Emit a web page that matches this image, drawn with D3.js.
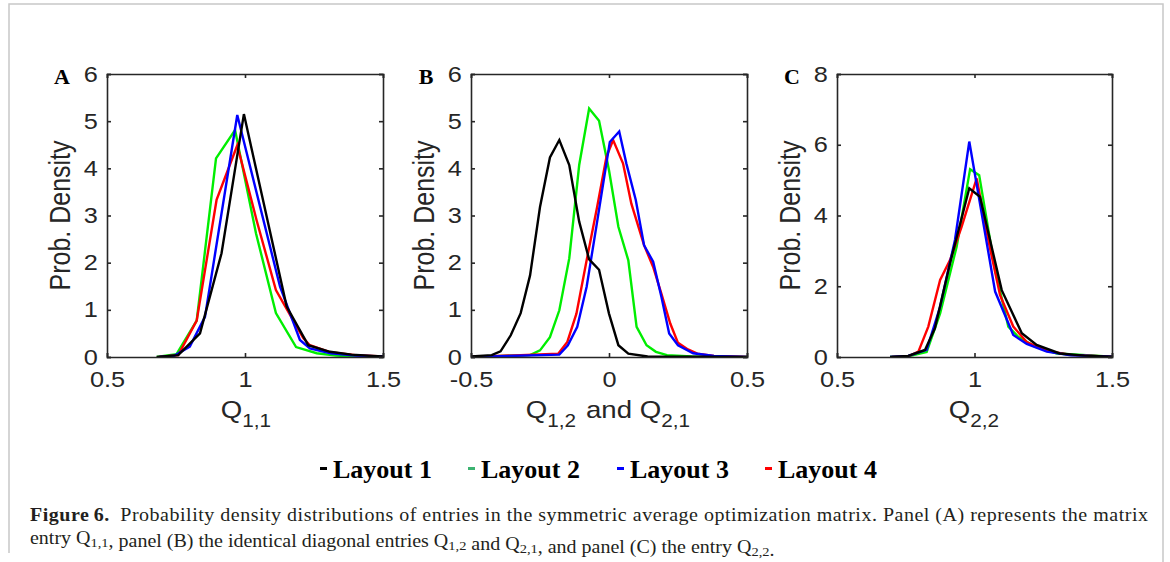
<!DOCTYPE html>
<html><head><meta charset="utf-8">
<script src="https://cdn.jsdelivr.net/npm/d3@7"></script>
<style>body{margin:0;background:#fff}svg{display:block}</style></head>
<body><svg id="c" width="1170" height="562"></svg>
<script>
// ---------- data ----------
const layouts = ["Layout 1", "Layout 2", "Layout 3", "Layout 4"];
const panelLetters = ["A", "B", "C"];
const xDomains = [[0.5, 1.5], [-0.5, 0.5], [0.5, 1.5]];
const yDomains = [[0, 6], [0, 6], [0, 8]];
const xTicks = [[0.5, 1, 1.5], [-0.5, 0, 0.5], [0.5, 1, 1.5]];
const yTicks = [[0, 1, 2, 3, 4, 5, 6], [0, 1, 2, 3, 4, 5, 6], [0, 2, 4, 6, 8]];
const yLabel = "Prob. Density";

// Panel A: Q1,1
const a1 = [[0.68,0],[0.758,0.04],[0.837,0.50],[0.915,2.20],[0.996,5.15],[1.151,1.07],[1.229,0.25],[1.308,0.11],[1.386,0.05],[1.464,0.02],[1.5,0.01]];
const a2 = [[0.68,0],[0.752,0.06],[0.825,0.77],[0.895,4.21],[0.964,4.81],[1.04,2.62],[1.112,0.93],[1.185,0.21],[1.26,0.08],[1.33,0.03],[1.40,0.01],[1.5,0]];
const a3 = [[0.69,0],[0.745,0.03],[0.80,0.22],[0.855,0.85],[0.972,5.13],[1.127,1.49],[1.199,0.36],[1.235,0.18],[1.31,0.08],[1.40,0.03],[1.5,0.01]];
const a4 = [[0.69,0],[0.758,0.04],[0.825,0.77],[0.897,3.33],[0.972,4.49],[1.042,2.90],[1.112,1.42],[1.211,0.40],[1.235,0.25],[1.31,0.10],[1.40,0.04],[1.5,0.01]];
// Panel B: Q1,2 and Q2,1
const b1 = [[-0.5,0.01],[-0.425,0.04],[-0.393,0.12],[-0.356,0.46],[-0.32,0.93],[-0.286,1.73],[-0.25,3.18],[-0.214,4.23],[-0.18,4.6],[-0.144,4.07],[-0.108,2.87],[-0.072,2.07],[-0.036,1.85],[0.0,0.92],[0.034,0.25],[0.07,0.07],[0.14,0.01],[0.5,0]];
const b2 = [[-0.5,0],[-0.286,0.04],[-0.25,0.14],[-0.214,0.42],[-0.18,0.99],[-0.144,2.09],[-0.108,4.07],[-0.072,5.27],[-0.036,5.01],[0.0,3.96],[0.034,2.76],[0.07,2.05],[0.1,0.64],[0.136,0.25],[0.17,0.11],[0.21,0.04],[0.3,0.01],[0.5,0]];
const b3 = [[-0.5,0],[-0.18,0.05],[-0.149,0.25],[-0.115,0.64],[-0.081,1.49],[-0.046,2.76],[0.003,4.56],[0.037,4.78],[0.063,4.1],[0.097,3.33],[0.127,2.37],[0.16,2.02],[0.19,1.27],[0.218,0.5],[0.25,0.25],[0.305,0.08],[0.38,0.02],[0.5,0]];
const b4 = [[-0.5,0],[-0.184,0.07],[-0.151,0.32],[-0.118,0.92],[-0.081,2.05],[-0.043,3.18],[-0.009,4.25],[0.015,4.6],[0.051,4.1],[0.081,3.25],[0.127,2.37],[0.16,1.91],[0.19,1.34],[0.222,0.71],[0.25,0.3],[0.286,0.16],[0.32,0.07],[0.38,0.02],[0.5,0]];
// Panel C: Q2,2
const c1 = [[0.693,0],[0.759,0.03],[0.82,0.20],[0.856,0.81],[0.911,2.65],[0.981,4.77],[1.02,4.53],[1.099,1.89],[1.172,0.67],[1.226,0.34],[1.31,0.10],[1.40,0.04],[1.5,0.01]];
const c2 = [[0.693,0],[0.759,0.02],[0.826,0.14],[0.875,1.23],[0.935,3.12],[0.984,5.31],[1.017,5.14],[1.075,2.46],[1.123,0.86],[1.159,0.57],[1.22,0.29],[1.3,0.1],[1.5,0.01]];
const c3 = [[0.693,0],[0.759,0.03],[0.826,0.20],[0.875,1.42],[0.929,3.31],[0.981,6.09],[1.026,4.06],[1.075,1.85],[1.141,0.62],[1.19,0.37],[1.263,0.15],[1.35,0.05],[1.5,0.01]];
const c4 = [[0.7,0],[0.759,0.02],[0.796,0.15],[0.832,0.86],[0.875,2.18],[0.911,2.74],[0.953,3.68],[1.008,5.05],[1.05,3.31],[1.093,1.75],[1.141,0.86],[1.19,0.42],[1.26,0.18],[1.35,0.06],[1.5,0.01]];

const panelSeries = [[a1, a2, a3, a4], [b1, b2, b3, b4], [c1, c2, c3, c4]];

// ---------- style / layout ----------
const lineColors = ["#000000", "#00ee00", "#0000ff", "#ff0000"];
const legendColors = ["#000000", "#3cb371", "#0000ff", "#ff0000"];
const drawOrder = [1, 3, 2, 0];
const panelBoxes = [{x0:107, x1:383}, {x0:471, x1:747}, {x0:837, x1:1112}];
const yTop = 74, yBot = 357;
const axisColor = "#262626";
const sansFont = "'Liberation Sans', Arial, Helvetica, sans-serif";
const serifFont = "'Liberation Serif', 'Times New Roman', serif";
const stretch = 1.15;

const svg = d3.select("#c");

// frame
svg.append("path").attr("d", "M9,553 V4 H1163 V562").attr("fill", "none")
  .attr("stroke", "#c8c8c8").attr("stroke-width", 1.5);

panelBoxes.forEach((b, i) => {
  const x = d3.scaleLinear().domain(xDomains[i]).range([b.x0, b.x1]);
  const y = d3.scaleLinear().domain(yDomains[i]).range([yBot, yTop]);
  const g = svg.append("g");

  const clipId = "clip" + i;
  svg.append("clipPath").attr("id", clipId).append("rect")
    .attr("x", b.x0).attr("y", yTop).attr("width", b.x1 - b.x0).attr("height", yBot - yTop);
  const line = d3.line().x(d => x(d[0])).y(d => y(d[1]));
  const lg = g.append("g").attr("clip-path", `url(#${clipId})`);
  drawOrder.forEach(k => {
    lg.append("path").datum(panelSeries[i][k]).attr("d", line)
      .attr("fill", "none").attr("stroke", lineColors[k]).attr("stroke-width", 2.4)
      .attr("stroke-linejoin", "miter");
  });

  const fmt = d => String(d);
  const axB = d3.axisBottom(x).tickValues(xTicks[i]).tickSize(-4).tickPadding(14).tickFormat(fmt);
  const axT = d3.axisTop(x).tickValues(xTicks[i]).tickSize(-4).tickFormat("");
  const axL = d3.axisLeft(y).tickValues(yTicks[i]).tickSize(-4).tickPadding(8).tickFormat(fmt);
  const axR = d3.axisRight(y).tickValues(yTicks[i]).tickSize(-4).tickFormat("");
  const styleAx = sel => {
    sel.selectAll(".domain").attr("stroke", axisColor).attr("stroke-width", 1.6);
    sel.selectAll(".tick line").attr("stroke", axisColor).attr("stroke-width", 1.6);
    sel.selectAll("text").attr("fill", "#262626").style("font-family", sansFont).style("font-size", "22px")
      .attr("transform", `scale(${stretch},1)`);
  };
  g.append("g").attr("transform", `translate(0,${yBot})`).call(axB).call(styleAx);
  g.append("g").attr("transform", `translate(0,${yTop})`).call(axT).call(styleAx);
  g.append("g").attr("transform", `translate(${b.x0},0)`).call(axL).call(styleAx);
  g.append("g").attr("transform", `translate(${b.x1},0)`).call(axR).call(styleAx);

  g.append("text").attr("transform", `translate(${b.x0 - 37},${(yTop + yBot) / 2}) scale(${stretch},1) rotate(-90)`)
    .attr("text-anchor", "middle").attr("fill", "#262626")
    .style("font-family", sansFont).style("font-size", "25px").text(yLabel);

  g.append("text").attr("x", b.x0 - 45).attr("y", 84).attr("text-anchor", "middle")
    .style("font-family", serifFont).style("font-weight", "bold").style("font-size", "22px")
    .text(panelLetters[i]);
});

// x labels with subscripts
function qLabel(cx, parts) {
  const t = svg.append("text").attr("transform", `translate(${cx},418) scale(${stretch},1)`)
    .attr("text-anchor", "middle")
    .attr("fill", "#262626").style("font-family", sansFont).style("font-size", "24px");
  parts.forEach(p => {
    if (p.sub) {
      t.append("tspan").attr("dy", 9).style("font-size", "18px").text(p.s);
      t.append("tspan").attr("dy", -9).text("\u200A");
    } else {
      t.append("tspan").text(p.s);
    }
  });
}
qLabel(247, [{s:"Q"}, {s:"1,1", sub:true}]);
qLabel(609, [{s:"Q"}, {s:"1,2", sub:true}, {s:" and Q"}, {s:"2,1", sub:true}]);
qLabel(975, [{s:"Q"}, {s:"2,2", sub:true}]);

// legend
const legendX = [320, 468, 617, 765];
layouts.forEach((name, k) => {
  svg.append("rect").attr("x", legendX[k]).attr("y", 467).attr("width", 7).attr("height", 3)
    .attr("fill", legendColors[k]);
  svg.append("text").attr("x", legendX[k] + 13).attr("y", 478)
    .style("font-family", serifFont).style("font-weight", "bold").style("font-size", "26px")
    .text(name);
});

// caption (line 1 justified, line 2 natural)
const capSize = "18px";
const cap2 = svg.append("text").style("font-family", serifFont).style("font-size", capSize).attr("fill", "#231f20");
const seg = [["entry Q"], ["1,1", 1], [", panel (B) the identical diagonal entries Q"], ["1,2", 1], [" and Q"], ["2,1", 1], [", and panel (C) the entry Q"], ["2,2", 1], ["."]];
seg.forEach(s => {
  if (s[1]) {
    cap2.append("tspan").attr("dy", 3).style("font-size", "13px").text(s[0]);
    cap2.append("tspan").attr("dy", -3).text("");
  } else cap2.append("tspan").text(s[0]);
});
const capScale = 745 / cap2.node().getComputedTextLength();
cap2.attr("transform", `translate(30,544) scale(${capScale},1)`);

const cap1 = svg.append("text").style("font-family", serifFont).style("font-size", capSize).attr("fill", "#231f20");
cap1.append("tspan").style("font-weight", "bold").text("Figure\u20096.");
cap1.append("tspan").text("\u2002Probability density distributions of entries in the symmetric average optimization matrix. Panel (A) represents the matrix");
cap1.attr("textLength", 1118 / capScale).attr("lengthAdjust", "spacing");
cap1.attr("transform", `translate(30,521) scale(${capScale},1)`);
</script></body></html>
